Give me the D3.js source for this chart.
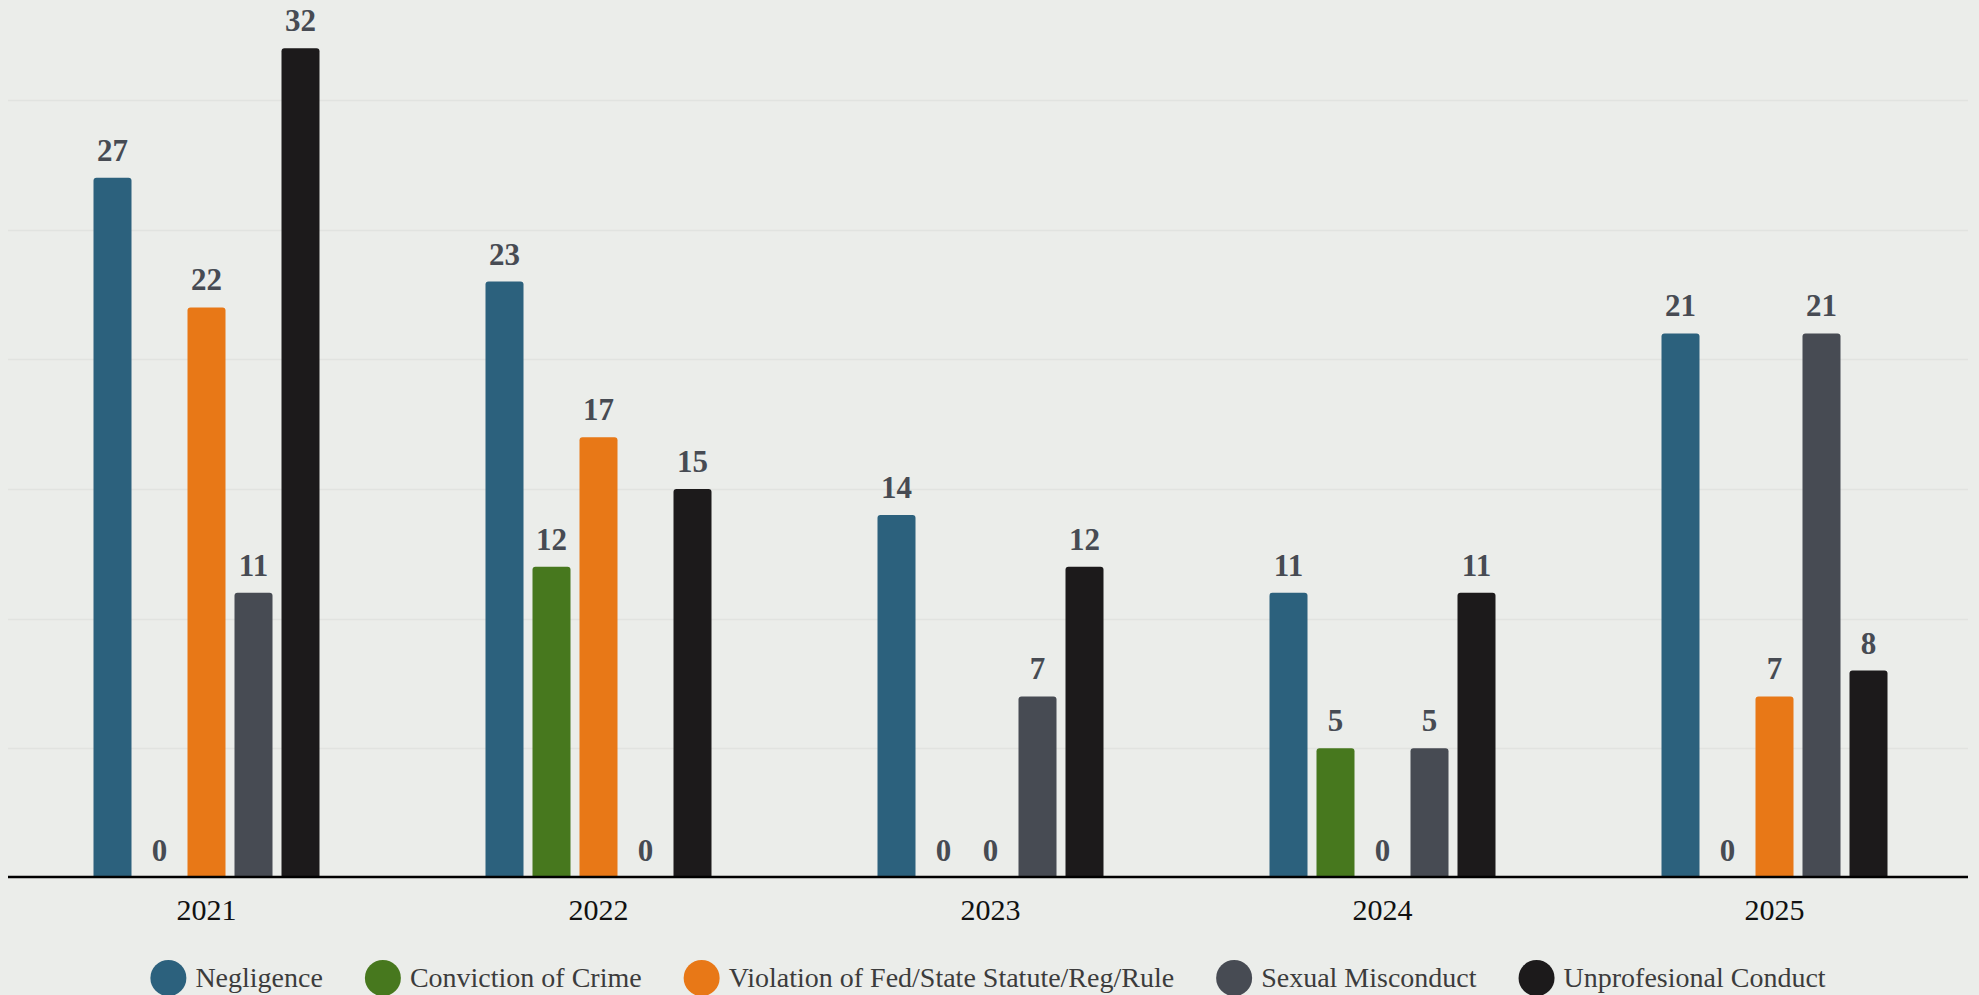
<!DOCTYPE html>
<html>
<head>
<meta charset="utf-8">
<script src="https://cdn.jsdelivr.net/npm/d3@7/dist/d3.min.js"></script>
<style>
  html, body { margin: 0; padding: 0; background: #EBEDEA; }
  svg { display: block; }
</style>
</head>
<body>
<svg id="chart" width="1979" height="995"></svg>
<script>
const years = ["2021", "2022", "2023", "2024", "2025"];
const seriesNames = ["Negligence", "Conviction of Crime", "Violation of Fed/State Statute/Reg/Rule", "Sexual Misconduct", "Unprofesional Conduct"];
const seriesColors = ["#2C617D", "#47781E", "#E87817", "#474B53", "#1C1A1B"];
const negligence = [27, 23, 14, 11, 21];
const conviction = [0, 12, 0, 5, 0];
const violation = [22, 17, 0, 0, 7];
const sexual = [11, 0, 7, 5, 21];
const unprofessional = [32, 15, 12, 11, 8];
const gridTicks = [0, 5, 10, 15, 20, 25, 30];

const seriesValues = [negligence, conviction, violation, sexual, unprofessional];

const W = 1979, H = 995;
const left = 8, right = 1968;
const svg = d3.select("#chart");

const x0 = d3.scaleBand().domain(years).range([left + 2.5, right + 2.5])
  .paddingInner(166 / 392).paddingOuter(83 / 392);
const x1 = d3.scaleBand().domain(seriesNames).range([0, x0.bandwidth()])
  .paddingInner(9 / 47).paddingOuter(0);
const y = d3.scaleLinear().domain([0, 30]).range([878, 100]);

// gridlines
svg.append("g").selectAll("line").data(gridTicks.filter(d => d > 0)).join("line")
  .attr("x1", left).attr("x2", right)
  .attr("y1", d => Math.round(y(d)) + 0.5).attr("y2", d => Math.round(y(d)) + 0.5)
  .attr("stroke", "#E1E3E0").attr("stroke-width", 1.5);

function topRounded(x, yTop, w, h, r) {
  if (h <= 0) return "";
  r = Math.min(r, h, w / 2);
  return `M${x},${yTop + h} L${x},${yTop + r} Q${x},${yTop} ${x + r},${yTop} L${x + w - r},${yTop} Q${x + w},${yTop} ${x + w},${yTop + r} L${x + w},${yTop + h} Z`;
}

const data = [];
years.forEach((yr, i) => {
  seriesNames.forEach((s, j) => {
    data.push({ year: yr, series: s, value: seriesValues[j][i], color: seriesColors[j] });
  });
});

const bars = svg.append("g");
bars.selectAll("path").data(data.filter(d => d.value > 0)).join("path")
  .attr("d", d => {
    const bx = x0(d.year) + x1(d.series);
    return topRounded(bx, y(d.value), x1.bandwidth(), y(0) - y(d.value), 3);
  })
  .attr("fill", d => d.color);

svg.append("g").selectAll("text").data(data).join("text")
  .attr("x", d => x0(d.year) + x1(d.series) + x1.bandwidth() / 2)
  .attr("y", d => y(d.value) - 17)
  .attr("text-anchor", "middle")
  .attr("font-family", "'Liberation Serif', serif")
  .attr("font-weight", "bold")
  .attr("font-size", 31)
  .attr("fill", "#474B53")
  .text(d => d.value);

// axis
const xAxis = d3.axisBottom(x0).tickSize(0).tickPadding(22);
const ax = svg.append("g").attr("transform", `translate(0,${y(0) - 1})`).call(xAxis);
ax.select(".domain").attr("stroke", "#000").attr("stroke-width", 2.5)
  .attr("d", `M${left},0H${right}`);
ax.selectAll(".tick text")
  .attr("font-family", "'Liberation Serif', serif")
  .attr("font-size", 30)
  .attr("fill", "#111");

// legend
const legend = svg.append("g");
const items = legend.selectAll("g").data(seriesNames).join("g");
items.append("circle").attr("r", 18).attr("cx", 18).attr("cy", 0)
  .attr("fill", (d, i) => seriesColors[i]);
items.append("text").attr("x", 45).attr("y", 0).attr("dy", "0.33em")
  .attr("font-family", "'Liberation Serif', serif")
  .attr("font-size", 28)
  .attr("fill", "#3C3C3C")
  .text(d => d);
const widths = [];
items.each(function () { widths.push(45 + d3.select(this).select("text").node().getComputedTextLength()); });
const gap = 42;
const total = d3.sum(widths) + gap * (widths.length - 1);
let cx = (left + right) / 2 - total / 2;
items.each(function (d, i) {
  d3.select(this).attr("transform", `translate(${cx},978)`);
  cx += widths[i] + gap;
});
</script>
</body>
</html>
